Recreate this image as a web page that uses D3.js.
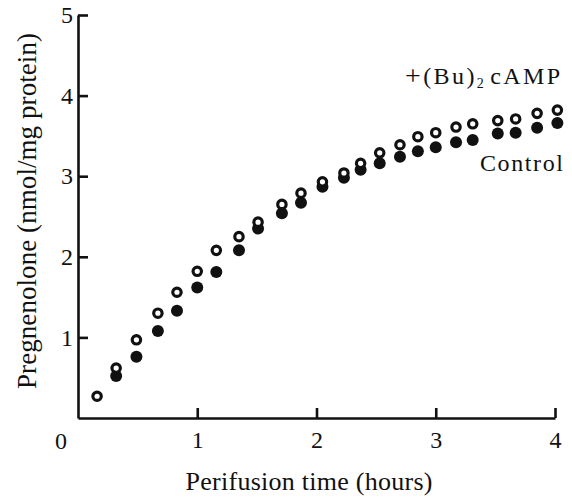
<!DOCTYPE html>
<html>
<head>
<meta charset="utf-8">
<script src="https://cdn.jsdelivr.net/npm/d3@7"></script>
<style>
  html, body { margin: 0; padding: 0; background: #fff; }
  svg { display: block; }
  text { font-family: "Liberation Serif", "Times New Roman", serif; fill: #111; }
</style>
</head>
<body>
<svg id="chart" width="572" height="501"></svg>
<script>
// Perifusion time (hours) at each sampling point
const hours = [0.16, 0.32, 0.49, 0.67, 0.83, 1.00, 1.16, 1.35, 1.51, 1.71, 1.87, 2.05,
               2.23, 2.37, 2.53, 2.70, 2.85, 3.00, 3.17, 3.31, 3.52, 3.67, 3.85, 4.02];
// Pregnenolone (nmol/mg protein), dibutyryl cAMP treated
const campValues = [0.27, 0.62, 0.97, 1.30, 1.56, 1.82, 2.08, 2.25, 2.43, 2.65, 2.79, 2.93,
                    3.04, 3.16, 3.29, 3.39, 3.49, 3.54, 3.61, 3.65, 3.69, 3.71, 3.78, 3.82];
// Pregnenolone (nmol/mg protein), control (no first sample)
const controlValues = [null, 0.52, 0.76, 1.08, 1.33, 1.62, 1.81, 2.08, 2.35, 2.54, 2.67, 2.87,
                       2.98, 3.08, 3.16, 3.24, 3.31, 3.36, 3.42, 3.45, 3.53, 3.54, 3.60, 3.66];
const xTicks = [1, 2, 3, 4];
const yTicks = [1, 2, 3, 4, 5];
const xTitle = "Perifusion time (hours)";
const yTitle = "Pregnenolone (nmol/mg protein)";
const controlLabel = "Control";

const svg = d3.select("#chart");
const x = d3.scaleLinear().domain([0, 4]).range([78, 555]);
const y = d3.scaleLinear().domain([0, 5]).range([418, 15]);

const axisStyle = g => {
  g.selectAll("path.domain").attr("stroke", "#111").attr("stroke-width", 2.6);
  g.selectAll(".tick line").attr("stroke", "#111").attr("stroke-width", 2.6);
  g.selectAll(".tick text")
    .attr("font-family", "'Liberation Serif', 'Times New Roman', serif")
    .attr("font-size", 24).attr("fill", "#111");
};

// x axis with inward ticks
svg.append("g")
  .attr("transform", `translate(0,${y(0)})`)
  .call(d3.axisBottom(x).tickValues(xTicks).tickFormat(d3.format("d"))
        .tickSizeInner(-10).tickSizeOuter(0).tickPadding(13))
  .call(axisStyle)
  .call(g => g.selectAll(".tick text").attr("dy", "0.71em"));

// y axis with inward ticks
svg.append("g")
  .attr("transform", `translate(${x(0)},0)`)
  .call(d3.axisLeft(y).tickValues(yTicks).tickFormat(d3.format("d"))
        .tickSizeInner(-10).tickSizeOuter(0).tickPadding(5))
  .call(axisStyle);

// shared origin label
svg.append("text")
  .attr("x", x(0) - 17).attr("y", y(0) + 31)
  .attr("text-anchor", "middle").attr("font-size", 24)
  .text("0");

// axis titles
svg.append("text")
  .attr("x", 309).attr("y", 490)
  .attr("text-anchor", "middle").attr("font-size", 26)
  .attr("textLength", 247).attr("lengthAdjust", "spacing")
  .text(xTitle);

svg.append("text")
  .attr("transform", "translate(36,211) rotate(-90)")
  .attr("text-anchor", "middle").attr("font-size", 27)
  .attr("textLength", 356).attr("lengthAdjust", "spacing")
  .text(yTitle);

// control series (filled)
const controlPts = hours.map((h, i) => ({ h, v: controlValues[i] })).filter(d => d.v != null);
svg.append("g").selectAll("circle")
  .data(controlPts)
  .join("circle")
  .attr("cx", d => x(d.h))
  .attr("cy", d => y(d.v))
  .attr("r", 6)
  .attr("fill", "#111");

// cAMP series (open, drawn on top)
const campPts = hours.map((h, i) => ({ h, v: campValues[i] }));
svg.append("g").selectAll("circle")
  .data(campPts)
  .join("circle")
  .attr("cx", d => x(d.h))
  .attr("cy", d => y(d.v))
  .attr("r", 4.2)
  .attr("fill", "#fff")
  .attr("stroke", "#111")
  .attr("stroke-width", 3.2);

// series labels
const campText = svg.append("text")
  .attr("x", 407).attr("y", 84)
  .attr("font-size", 24)
  .attr("letter-spacing", 2.4);
campText.append("tspan").attr("dx", -2).attr("font-size", 28).attr("dy", 1).text("+");
campText.append("tspan").attr("dy", -1).text("(Bu)");
campText.append("tspan").attr("font-size", 14).attr("dy", 4).text("2");
campText.append("tspan").attr("dy", -4).attr("dx", 4).text("cAMP");

svg.append("text")
  .attr("x", 480).attr("y", 171)
  .attr("font-size", 24)
  .attr("textLength", 83).attr("lengthAdjust", "spacing")
  .text(controlLabel);
</script>
</body>
</html>
